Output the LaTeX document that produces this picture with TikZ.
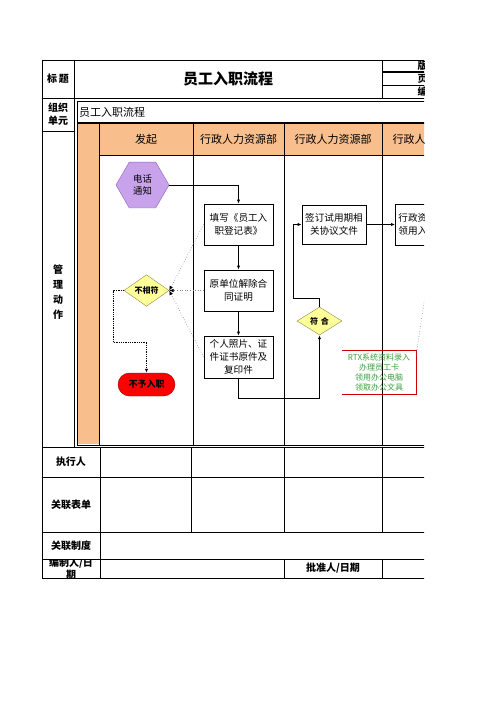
\documentclass[tikz,border=0pt]{standalone}
\usepackage{fontspec}
\setmainfont{Noto Sans CJK SC}
\usetikzlibrary{shapes.geometric,arrows.meta}
\definecolor{orangeF}{HTML}{F8BE8C}
\definecolor{purpleF}{HTML}{C9A2EC}
\definecolor{purpleD}{HTML}{8E63B8}
\definecolor{yellowF}{HTML}{FFFF99}
\definecolor{yellowD}{HTML}{8A8A4A}
\definecolor{greenT}{HTML}{3E9E3E}
\begin{document}
\begin{tikzpicture}[x=1pt,y=-1pt,
  tbl/.style={line width=1pt},
  lbl/.style={font=\fontsize{10}{14}\selectfont\bfseries,align=center,inner sep=0},
  lane/.style={font=\fontsize{11}{13}\selectfont,inner sep=0},
  procbox/.style={draw,fill=white,line width=0.8pt,minimum width=69,minimum height=41,align=center,inner sep=1,font=\fontsize{9.6}{13}\selectfont},
  hexnode/.style={draw=purpleD,fill=purpleF,regular polygon,regular polygon sides=6,minimum size=53,inner sep=0,align=center,font=\fontsize{9.4}{12}\selectfont},
  decide/.style={draw=yellowD,fill=yellowF,diamond,minimum width=45,minimum height=28,inner sep=0,font=\fontsize{8}{10}\selectfont\bfseries},
  termnode/.style={draw=red!60!black,fill=red,rounded corners=11.5,minimum width=57,minimum height=23,inner sep=0,font=\fontsize{9}{11}\selectfont\bfseries},
  arr/.style={line width=0.7pt,-{Latex[length=4,width=3.2]}},
  dotarr/.style={gray,dotted,line width=0.6pt,-{Latex[length=4.5,width=3.6,black]}},
  blkdot/.style={black,densely dotted,line width=0.8pt,-{Latex[length=4,width=3.2]}}
]
\useasboundingbox (0,0) rectangle (496,702);
\fill[white] (0,0) rectangle (496,702);
\begin{scope}
\clip (0,0) rectangle (424,702);
% fills
\fill[orangeF] (77,123) rectangle (99,444);
\fill[orangeF] (99,123) rectangle (430,155);
% outer table
\draw[tbl] (42,60) -- (430,60);
\draw[tbl] (42,60) -- (42,578);
\draw[tbl] (74,60) -- (74,447);
\draw[tbl] (42,98) -- (430,98);
\draw[tbl] (42,131) -- (74,131);
\draw[tbl] (382,60) -- (382,98);
\draw[line width=2pt] (382,72) -- (430,72);
\draw[tbl] (382,85) -- (430,85);
% inner box
\draw[tbl] (77,101) -- (430,101);
\draw[tbl] (77,101) -- (77,445);
\draw[line width=2pt] (77,123) -- (430,123);
\draw[tbl] (99,123) -- (99,445);
\draw[line width=0.8pt] (99,155) -- (430,155);
\draw[tbl] (193,123) -- (193,445);
\draw[tbl] (284,123) -- (284,445);
\draw[tbl] (382,123) -- (382,445);
\draw[tbl] (77,445) -- (430,445);
\draw[tbl] (42,447.5) -- (430,447.5);
% bottom rows
\draw[tbl] (42,477) -- (430,477);
\draw[tbl] (42,532) -- (430,532);
\draw[tbl] (42,559) -- (430,559);
\draw[tbl] (42,578) -- (430,578);
\draw[tbl] (100,447.5) -- (100,578);
\draw[tbl] (191,447.5) -- (191,532);
\draw[tbl] (284,447.5) -- (284,532);
\draw[tbl] (382,447.5) -- (382,532);
\draw[tbl] (284,559) -- (284,578);
\draw[tbl] (382,559) -- (382,578);
% labels
\node[lbl] (lt) at (58,79) {标\,题};
\node[font=\fontsize{15}{18}\selectfont\bfseries,inner sep=0] (title) at (228,79) {员工入职流程};
\node[lbl,anchor=west] (v1) at (417.5,66) {版本};
\node[lbl,anchor=west] (v2) at (417.5,78.5) {页码};
\node[lbl,anchor=west] (v3) at (417.5,91.5) {编号};
\node[lbl,font=\fontsize{10}{13}\selectfont\bfseries] (lorg) at (58,114.5) {组织\\单元};
\node[lane,anchor=west] (orgname) at (79,112.5) {员工入职流程};
\node[lbl,font=\fontsize{10}{15}\selectfont\bfseries] (lmgmt) at (58,292) {管\\理\\动\\作};
\node[lane] (h1) at (146,139.5) {发起};
\node[lane] (h2) at (238.5,139.5) {行政人力资源部};
\node[lane] (h3) at (333,139.5) {行政人力资源部};
\node[lane] (h4) at (431,139.5) {行政人力资源部};
\node[lbl] (lexec) at (71,462) {执行人};
\node[lbl] (lform) at (71,504.5) {关联表单};
\node[lbl] (lsys) at (71,545.5) {关联制度};
\begin{scope}
\clip (42,559.5) rectangle (100,578);
\node[lbl,font=\fontsize{10}{12.5}\selectfont\bfseries] (lauth) at (71,568.5) {编制人/日\\期};
\end{scope}
\node[lbl] (lappr) at (333,568.5) {批准人/日期};
% flow nodes
\node[hexnode] (tel) at (142.5,185) {电话\\通知};
\node[procbox] (b1) at (238.5,224.5) {填写《员工入\\职登记表》};
\node[procbox] (b2) at (238.5,290.5) {原单位解除合\\同证明};
\node[procbox,minimum height=42] (b3) at (238.5,357) {个人照片、证\\件证书原件及\\复印件};
\node[procbox,minimum width=64,minimum height=39] (b4) at (334,224.5) {签订试用期相\\关协议文件};
\node[procbox,anchor=west,minimum width=60,align=left,text width=54] (b5) at (395,224.5) {行政资\\领用入};
\node[decide] (ok) at (319.5,321) {符\,\,合};
\node[decide] (nok) at (146.5,290.5) {不相符};
\node[termnode] (rej) at (146.5,384.5) {不予入职};
\node[inner sep=0,minimum width=74,minimum height=43,align=center,text=greenT,font=\fontsize{8}{10}\selectfont] (rtx) at (379,372.5) {RTX系统资料录入\\办理员工卡\\领用办公电脑\\领取办公文具};
\draw[red!80!black,line width=0.8pt] (rtx.north west) -- (rtx.north east) -- (rtx.south east) -- (rtx.south west);
% connectors
\coordinate (c1) at (238.5,398);
\coordinate (c2) at (293,298);
\coordinate (c3) at (113,290.5);
\coordinate (c4) at (113,342);
\coordinate (c5) at (146.5,342);
\coordinate (c6) at (432,250);
\draw[arr] (tel.east) -| (b1.north);
\draw[arr] (b1.south) -- (b2.north);
\draw[arr] (b2.south) -- (b3.north);
\draw[arr] (b3.south) -- (c1) -| (ok.south);
\draw[arr] (ok.north) |- (c2) |- (b4.west);
\draw[arr] (b4.east) -- (b5.west);
\draw[dotarr] (b1.west) -- (nok.east);
\draw[dotarr] (b2.west) -- (nok.east);
\draw[dotarr] (b3.west) -- (nok.east);
\draw[blkdot] (nok.west) -- (c3) -- (c4) -- (c5) -- (rej.north);
\draw[gray,dotted,line width=0.6pt] (rtx.north east) ++(0,4) -- (c6);
\end{scope}
\end{tikzpicture}
\end{document}
